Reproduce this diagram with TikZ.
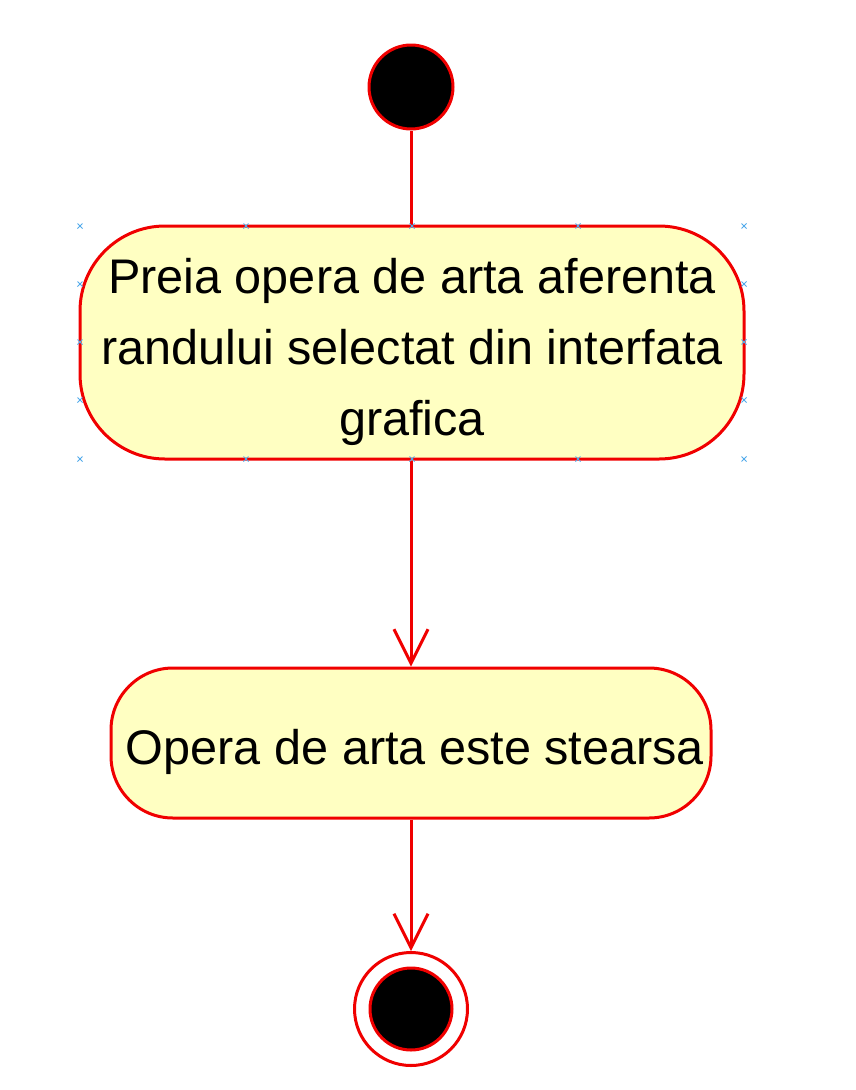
\documentclass[tikz,border=0pt]{standalone}
\usepackage{fontspec}
\setmainfont{Liberation Sans}
\usetikzlibrary{arrows.meta}
\definecolor{umlred}{RGB}{240,0,0}
\definecolor{umlfill}{RGB}{255,255,194}
\definecolor{handle}{RGB}{80,170,235}
\tikzset{
  flow/.style={draw=umlred, line width=3pt},
  openarrow/.style={-{Straight Barb[length=34pt,width=34pt,line width=3pt]}},
  actionbox/.style={draw=umlred, fill=umlfill, line width=3pt, rectangle, inner sep=0pt},
  actiontext/.style={align=center, font=\fontsize{48.6}{71}\selectfont, inner sep=0pt},
  startdot/.style={circle, draw=umlred, fill=black, line width=3pt, minimum size=84pt, inner sep=0pt},
  endring/.style={circle, draw=umlred, fill=white, line width=3pt, minimum size=113pt, inner sep=0pt},
  enddot/.style={circle, draw=umlred, fill=black, line width=3pt, minimum size=82pt, inner sep=0pt},
  handlemark/.style={draw=handle, line width=0.8pt}
}
\newcommand{\hmark}[2]{\draw[handlemark] (#1-2.5,#2-2.5) -- (#1+2.5,#2+2.5) (#1-2.5,#2+2.5) -- (#1+2.5,#2-2.5);}
\begin{document}
\begin{tikzpicture}[x=1pt,y=-1pt]
\useasboundingbox (0,0) rectangle (856,1090);
\node[startdot] (init) at (411,87) {};
\node[actionbox, rounded corners=85pt, minimum width=664pt, minimum height=233pt] (a1) at (412,342.5) {};
\node[actiontext] (a1text) at (412,352)
  {Preia opera de arta aferenta\\randului selectat din interfata\\grafica};
\node[actionbox, rounded corners=62pt, minimum width=600pt, minimum height=150pt] (a2) at (411,743) {};
\node[actiontext] (a2text) at (415,752) {Opera de arta este stearsa};
\node[endring] (fin) at (411,1009) {};
\node[enddot] (findot) at (411,1009) {};
\draw[flow] (init) -- (init |- a1.north);
\draw[flow, openarrow] (a1.south -| 411,0) -- (a2.north);
\draw[flow, openarrow] (a2) -- (fin);
\foreach \x in {80,246,412,578,744} { \hmark{\x}{226} \hmark{\x}{459} }
\foreach \y in {284,342,400} { \hmark{80}{\y} \hmark{744}{\y} }
\end{tikzpicture}
\end{document}
